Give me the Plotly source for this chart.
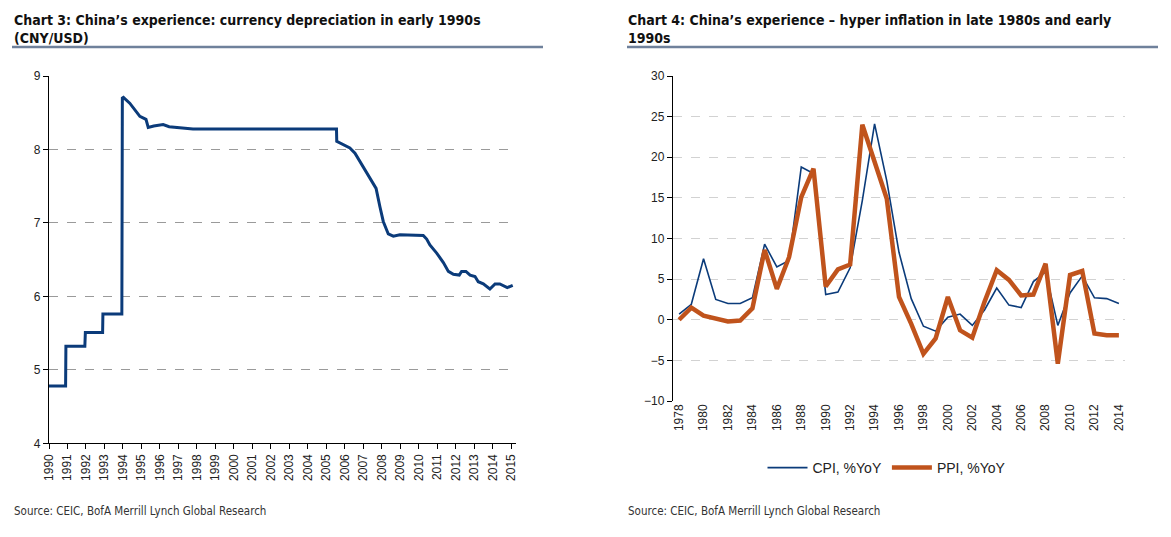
import plotly.graph_objects as go

# ---------------- data ----------------
cny_dates = ["1990-01-01", "1990-11-25", "1990-12-01", "1991-12-10", "1991-12-20",
             "1992-11-25", "1992-12-01", "1993-12-10", "1993-12-20", "1994-01-10",
             "1994-05-15", "1994-09-25", "1994-12-01", "1995-04-01", "1995-05-15",
             "1995-09-01", "1996-03-05", "1996-07-01", "1997-02-01", "1997-10-15",
             "2005-05-05", "2005-07-20", "2005-07-25", "2005-12-01", "2006-04-10",
             "2006-07-20", "2007-02-01", "2007-05-10", "2007-09-10", "2007-11-25",
             "2008-01-30", "2008-05-08", "2008-08-15", "2008-12-25", "2010-03-30",
             "2010-06-05", "2010-08-08", "2010-12-20", "2011-05-01", "2011-08-08",
             "2011-11-15", "2012-03-10", "2012-04-25", "2012-07-20", "2012-10-10",
             "2013-01-15", "2013-03-20", "2013-06-28", "2013-11-05", "2014-02-15",
             "2014-05-20", "2014-10-15", "2015-01-30"]
cny_values = [4.78, 4.78, 5.32, 5.32, 5.51,
              5.51, 5.76, 5.76, 8.70, 8.71,
              8.63, 8.51, 8.45, 8.41, 8.30,
              8.32, 8.34, 8.31, 8.30, 8.28,
              8.28, 8.28, 8.11, 8.06, 8.02,
              7.95, 7.72, 7.61, 7.47, 7.22,
              7.02, 6.85, 6.82, 6.84, 6.83,
              6.78, 6.70, 6.59, 6.46, 6.34,
              6.30, 6.29, 6.34, 6.34, 6.29,
              6.27, 6.20, 6.17, 6.10, 6.17,
              6.17, 6.12, 6.15]

years = list(range(1978, 2015))
cpi = [0.7, 1.9, 7.5, 2.5, 2.0, 2.0, 2.7, 9.3, 6.5, 7.3,
       18.8, 18.0, 3.1, 3.4, 6.4, 14.7, 24.1, 17.1, 8.3, 2.6,
       -0.8, -1.4, 0.3, 0.7, -0.7, 1.2, 3.9, 1.8, 1.5, 4.7,
       5.9, -0.7, 3.3, 5.4, 2.7, 2.6, 2.0]
ppi = [0.0, 1.5, 0.5, 0.2, -0.2, -0.1, 1.4, 8.6, 3.8, 7.7,
       15.1, 18.6, 4.1, 6.2, 6.8, 24.0, 19.5, 14.9, 2.8, -0.5,
       -4.2, -2.3, 2.8, -1.3, -2.2, 2.2, 6.1, 4.9, 3.0, 3.1,
       6.9, -5.4, 5.5, 6.0, -1.7, -1.9, -1.9]

left_titles = "<b>Chart 3: China’s experience: currency depreciation in early 1990s<br>(CNY/USD)</b>"
right_titles = "<b>Chart 4: China’s experience – hyper inflation in late 1980s and early<br>1990s</b>"
source_text = "Source: CEIC, BofA Merrill Lynch Global Research"

# ---------------- layout geometry ----------------
W, H = 1171, 537
OFF = 8  # page body margin
def px(x):
    return (x - OFF) / W
def py(y):
    return 1 - (y - OFF) / H

navy = "#0b3b7a"
orange = "#c0531c"
tickfont = dict(family="Liberation Sans, Arial, sans-serif", size=12, color="#222")
narrow = "DejaVu Sans Condensed, Liberation Sans Narrow, Roboto, sans-serif"

fig = go.Figure()
fig.add_trace(go.Scatter(x=cny_dates, y=cny_values, mode="lines",
                         line=dict(color=navy, width=3), xaxis="x", yaxis="y",
                         showlegend=False))
fig.add_trace(go.Scatter(x=years, y=cpi, mode="lines", name="CPI, %YoY",
                         line=dict(color=navy, width=1.6), xaxis="x2", yaxis="y2"))
fig.add_trace(go.Scatter(x=years, y=ppi, mode="lines", name="PPI, %YoY",
                         line=dict(color=orange, width=4.5), xaxis="x2", yaxis="y2"))

ly0, ly1 = py(443.3), py(76)
ry0, ry1 = py(401), py(76)
zero_pos = ry0 + 0.25 * (ry1 - ry0)

fig.update_layout(
    width=W, height=H,
    margin=dict(l=0, r=0, t=0, b=0, autoexpand=False),
    paper_bgcolor="white", plot_bgcolor="white",
    showlegend=True,
    legend=dict(orientation="h", x=px(887), y=py(468), xanchor="center", yanchor="middle",
                font=dict(family="Liberation Sans, Arial, sans-serif", size=14, color="#222"),
                itemwidth=40, traceorder="normal"),
    xaxis=dict(domain=[px(49), px(516)], anchor="y", type="date", automargin=False,
               range=["1990-01-01", "2015-04-05"],
               tickmode="linear", tick0="1990-01-01", dtick="M12", tickformat="%Y",
               tickangle=-90, tickfont=tickfont, ticks="outside", ticklen=5,
               tickcolor="black", showline=True, linecolor="black", linewidth=1.3,
               showgrid=False, zeroline=False),
    yaxis=dict(domain=[ly0, ly1], anchor="x", range=[4, 9], dtick=1, automargin=False,
               tickfont=tickfont, ticks="outside", ticklen=5, tickcolor="black",
               showline=True, linecolor="black", linewidth=1.3,
               showgrid=True, gridcolor="#9a9a9a", griddash="dash", gridwidth=1,
               zeroline=False),
    xaxis2=dict(domain=[px(673), px(1125)], anchor="y2", range=[1977.5, 2014.5],
                automargin=False,
                tickmode="array", tickvals=list(range(1978, 2015, 2)),
                ticktext=[str(v) for v in range(1978, 2015, 2)],
                tickangle=-90, tickfont=tickfont, ticks="",
                showline=False, showgrid=False, zeroline=False),
    xaxis3=dict(domain=[px(673), px(1125)], anchor="free", position=zero_pos,
                overlaying="x2", range=[1977.5, 2014.5], automargin=False,
                tickmode="array", tickvals=[v + 0.5 for v in range(1977, 2014, 2)],
                showticklabels=False, ticks="outside", ticklen=5, tickcolor="black",
                showline=True, linecolor="black", linewidth=1.3,
                showgrid=False, zeroline=False),
    yaxis2=dict(domain=[ry0, ry1], anchor="x2", range=[-10, 30], dtick=5,
                automargin=False,
                tickfont=tickfont, ticks="outside", ticklen=5, tickcolor="black",
                showline=True, linecolor="black", linewidth=1.3,
                showgrid=True, gridcolor="#d2d2d2", griddash="dash", gridwidth=1,
                zeroline=False),
)

titlefont = dict(family=narrow, size=14, color="#111")
fig.add_annotation(text=left_titles, x=px(12), y=py(10), xref="paper", yref="paper",
                   xanchor="left", yanchor="top", showarrow=False, align="left",
                   font=titlefont)
fig.add_annotation(text=right_titles, x=px(626), y=py(10), xref="paper", yref="paper",
                   xanchor="left", yanchor="top", showarrow=False, align="left",
                   font=titlefont)
srcfont = dict(family=narrow, size=11.5, color="#333")
fig.add_annotation(text=source_text, x=px(12), y=py(511), xref="paper", yref="paper",
                   xanchor="left", yanchor="middle", showarrow=False, font=srcfont)
fig.add_annotation(text=source_text, x=px(626), y=py(511), xref="paper", yref="paper",
                   xanchor="left", yanchor="middle", showarrow=False, font=srcfont)

for x0, x1 in [(12, 543), (627, 1158)]:
    fig.add_shape(type="line", xref="paper", yref="paper", x0=px(x0), x1=px(x1),
                  y0=py(47), y1=py(47), line=dict(color="#6f819b", width=2.5))

fig.write_html("out.html")
